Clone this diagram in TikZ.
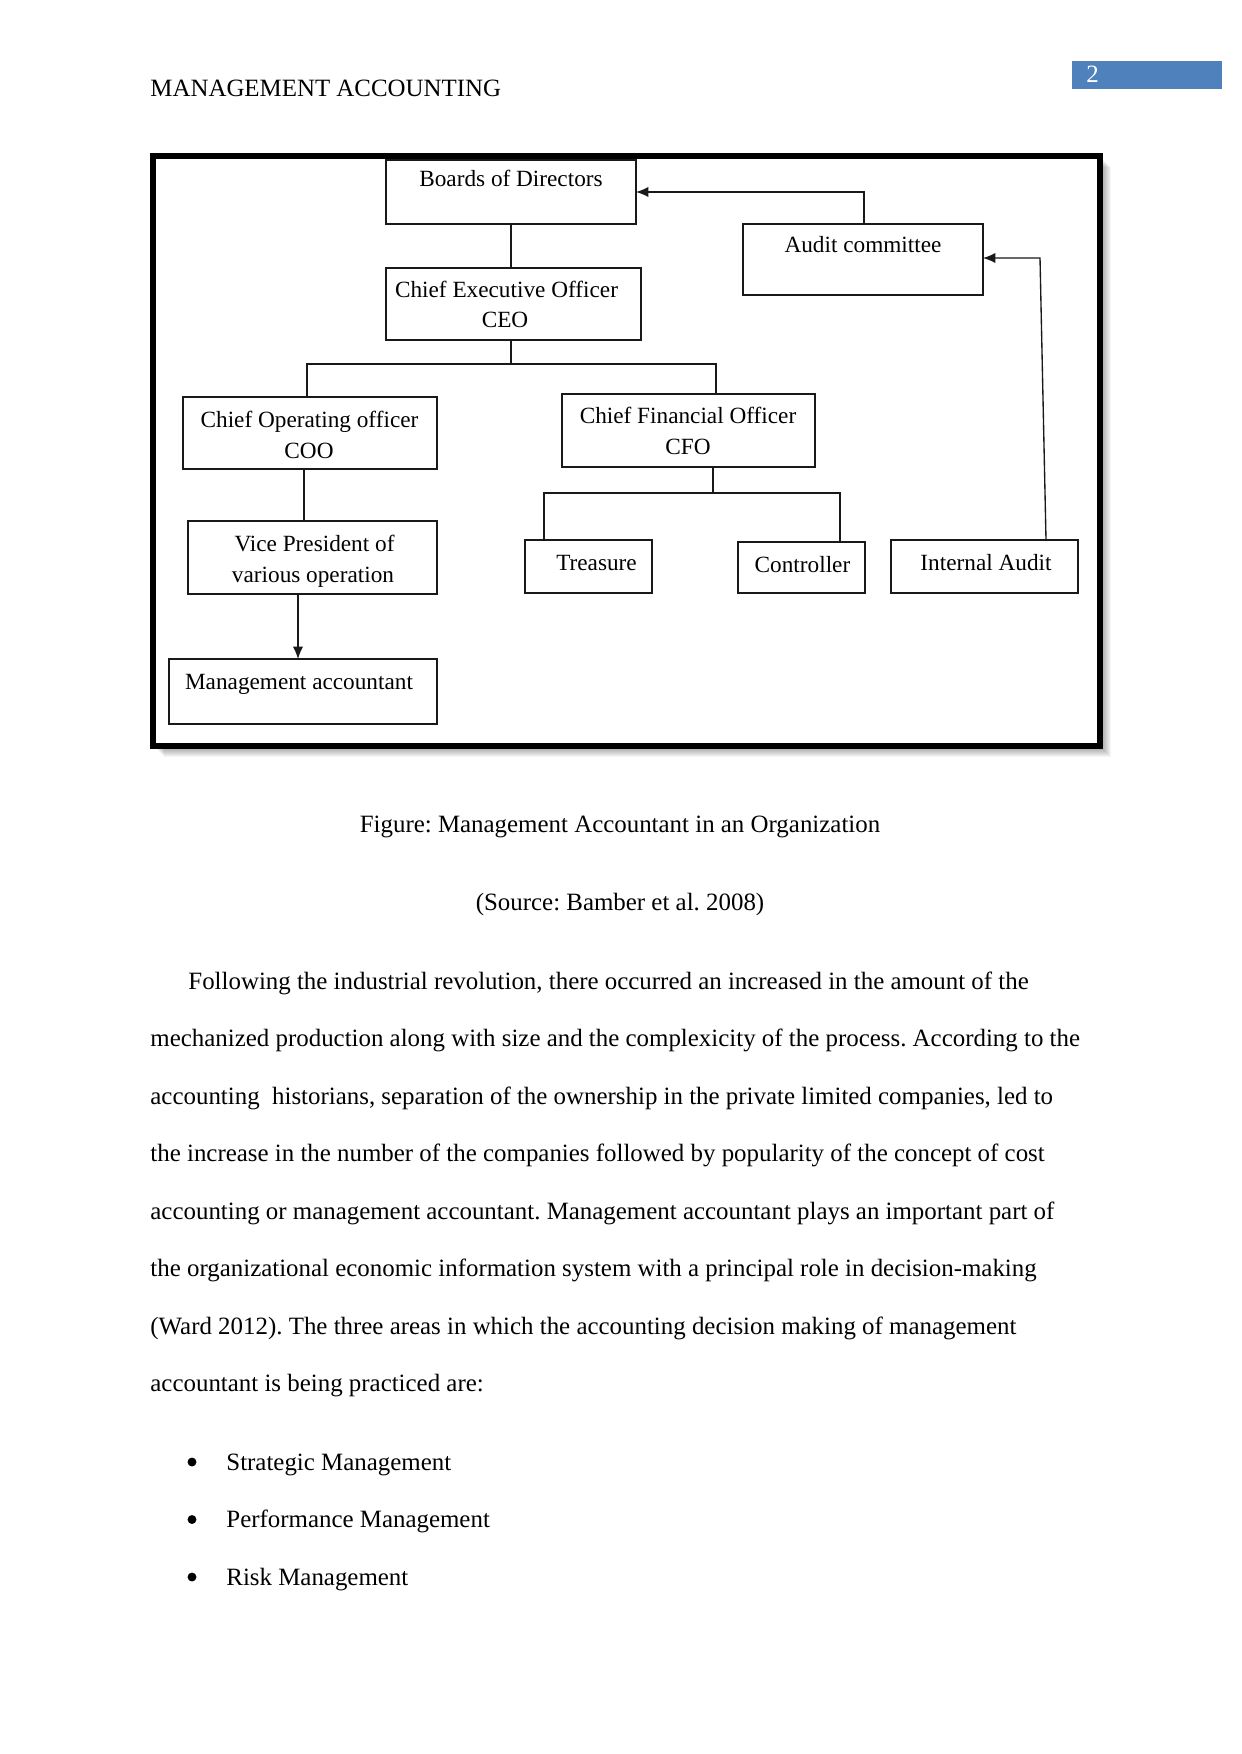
\documentclass[tikz,border=0pt]{standalone}
\usepackage{fontspec}
\setmainfont{Liberation Serif}
\usetikzlibrary{arrows.meta}
\definecolor{pgblue}{RGB}{79,129,189}
\frenchspacing
\def\pu{0.4818pt}
\newcommand\orgbox[5]{\node[orgbox, minimum width={(#4-#2)*\pu}, minimum height={(#5-#3)*\pu}] (#1) at ({(#2+#4)/2},{(#3+#5)/2}) {};}
\tikzset{
  orgbox/.style={draw=black!90, line width=0.65pt, inner sep=0pt, outer sep=0pt, fill=white},
  ct/.style={inner sep=0pt, anchor=base, font=\fontsize{11.2}{13}\selectfont},
  bt/.style={inner sep=0pt, anchor=base west, font=\fontsize{12}{14}\selectfont},
  conn/.style={line width=0.65pt, draw=black!90},
  arr/.style={conn, -{Latex[length=6pt,width=5pt]}},
}
\begin{document}
\begin{tikzpicture}[x=0.4818pt,y=-0.4818pt]
\useasboundingbox (0,0) rectangle (1241,1754);
\fill[white] (0,0) rectangle (1241,1754);

% header
\node[bt] (header) at (150,97) {MANAGEMENT ACCOUNTING};
\fill[pgblue] (1072,61) rectangle (1222,89);
\node[bt, text=white] (pgno) at (1086,83) {2};

% frame with shadow
\foreach \s in {1,...,8}{
  \fill[black, opacity=0.04] (156+\s,159+\s) rectangle (1102.5+\s,749+\s);
}
\fill[white] (153,156) rectangle (1099.5,746);

% boxes
\orgbox{boards}{386}{160}{636}{224}
\orgbox{ceo}{386}{268}{641}{340}
\orgbox{audit}{743}{224}{983}{295}
\orgbox{coo}{183}{397}{437}{469}
\orgbox{cfo}{562}{394}{815}{467}
\orgbox{vp}{188}{521}{437}{594}
\orgbox{ma}{169}{659}{437}{724}
\orgbox{treas}{525}{540}{652}{593}
\orgbox{ctrl}{738}{542}{865}{593}
\orgbox{ia}{891}{540}{1078}{593}

% box texts
\node[ct] (tboards) at (511,187) {Boards of Directors};
\node[ct] (tceo1) at (506.5,298) {Chief Executive Officer};
\node[ct] (tceo2) at (505,328) {CEO};
\node[ct] (taudit) at (863,253) {Audit committee};
\node[ct] (tcoo1) at (309.5,427) {Chief Operating officer};
\node[ct] (tcoo2) at (309,458) {COO};
\node[ct] (tcfo1) at (688,423) {Chief Financial Officer};
\node[ct] (tcfo2) at (688,454) {CFO};
\node[ct] (tvp1) at (314.5,551) {Vice President of};
\node[ct] (tvp2) at (313,582) {various operation};
\node[ct] (tma) at (299,689) {Management accountant};
\node[ct] (ttreas) at (596.5,570) {Treasure};
\node[ct] (tctrl) at (802.5,572) {Controller};
\node[ct] (tia) at (986,570) {Internal Audit};

% junction coordinates
\coordinate (x511) at (511,0);
\coordinate (j1) at (511,364);
\coordinate (j1l) at (307,364);
\coordinate (j1r) at (716,364);
\coordinate (x304) at (304,0);
\coordinate (x298) at (298,0);
\coordinate (j2) at (713,493);
\coordinate (j2l) at (544,493);
\coordinate (j2r) at (840,493);
\coordinate (x864) at (864,0);
\coordinate (a1) at (864,192);
\coordinate (iatop) at (1046,540);
\coordinate (b1) at (1040,258);

% connectors
\draw[conn] (boards.south -| x511) -- (ceo.north -| x511);
\draw[conn] (ceo.south -| x511) -- (j1);
\draw[conn] (j1l |- coo.north) -- (j1l) -- (j1r) -- (j1r |- cfo.north);
\draw[conn] (coo.south -| x304) -- (vp.north -| x304);
\draw[arr] (vp.south -| x298) -- (ma.north -| x298);
\draw[conn] (cfo.south -| j2) -- (j2);
\draw[conn] (j2l |- treas.north) -- (j2l) -- (j2r) -- (j2r |- ctrl.north);
\draw[arr] (audit.north -| x864) -- (a1) -- (boards.east |- a1);
\draw[arr] (iatop) -- (b1) -- (audit.east |- b1);

% frame
\draw[line width=6pt*0.4818, draw=black] (153,156) rectangle (1099.5,746);

% caption
\node[bt, anchor=base] (cap) at (620,832) {Figure: Management Accountant in an Organization};
\node[bt, anchor=base] (src) at (620,910) {(Source: Bamber et al. 2008)};

% body
\node[bt] (l1) at (188,989) {Following the industrial revolution, there occurred an increased in the amount of the};
\node[bt] (l2) at (150,1046.5) {mechanized production along with size and the complexicity of the process. According to the};
\node[bt] (l3) at (150,1104) {accounting\ \ historians, separation of the ownership in the private limited companies, led to};
\node[bt] (l4) at (150,1161.5) {the increase in the number of the companies followed by popularity of the concept of cost};
\node[bt] (l5) at (150,1219) {accounting or management accountant. Management accountant plays an important part of};
\node[bt] (l6) at (150,1276.5) {the organizational economic information system with a principal role in decision-making};
\node[bt] (l7) at (150,1334) {(Ward 2012). The three areas in which the accounting decision making of management};
\node[bt] (l8) at (150,1391.5) {accountant is being practiced are:};

% bullets
\node[circle, fill=black, inner sep=0pt, minimum size=4.3pt] (d1) at (192,1462) {};
\node[circle, fill=black, inner sep=0pt, minimum size=4.3pt] (d2) at (192,1519.5) {};
\node[circle, fill=black, inner sep=0pt, minimum size=4.3pt] (d3) at (192,1577) {};
\node[bt] (i1) at (226,1470) {Strategic Management};
\node[bt] (i2) at (226,1527.5) {Performance Management};
\node[bt] (i3) at (226,1585) {Risk Management};
\end{tikzpicture}
\end{document}
